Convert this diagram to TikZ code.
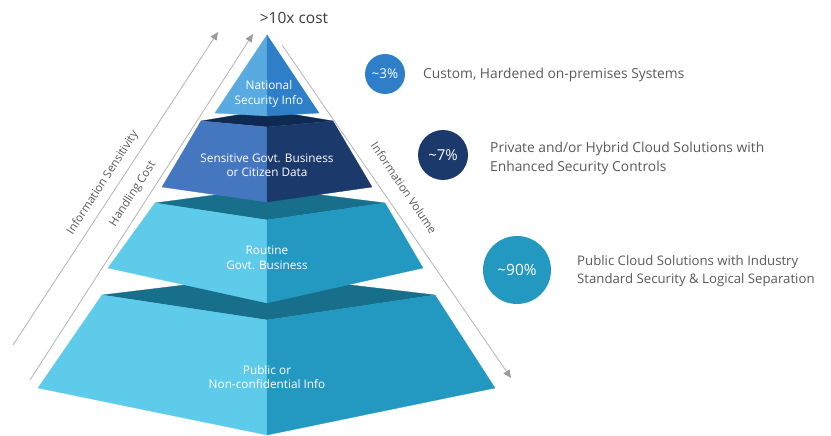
\documentclass[tikz,border=0pt]{standalone}
\usepackage{fontspec}
\setmainfont{Open Sans}
\usetikzlibrary{arrows.meta}

\definecolor{apexL}{HTML}{5AAAE2}
\definecolor{apexR}{HTML}{2E7FC7}
\definecolor{navyL}{HTML}{4577C0}
\definecolor{navyR}{HTML}{1B3A6B}
\definecolor{navyTop}{HTML}{0F2A52}
\definecolor{cyanL}{HTML}{5ECBEB}
\definecolor{cyanR}{HTML}{2398C0}
\definecolor{cyanTop}{HTML}{176F8C}
\definecolor{labelgrey}{HTML}{595959}
\definecolor{titlegrey}{HTML}{3A3A3A}
\definecolor{axisgrey}{HTML}{B4B4B4}
\definecolor{tipgrey}{HTML}{9C9C9C}

\tikzset{
  face/.style={fill=#1, draw=#1, line width=0.3pt, line join=round},
  tiertext/.style={text=white, align=center, font=\fontsize{11.8}{14.5}\selectfont, inner sep=0pt},
  axisline/.style={draw=axisgrey, line width=0.8pt,
    -{Triangle[length=8pt,width=7pt,color=tipgrey]}},
  axistext/.style={text=labelgrey, font=\fontsize{11.5}{13}\selectfont, inner sep=0pt},
  share/.style={circle, fill=#1, text=white, inner sep=0pt},
  desc/.style={text=labelgrey, align=left, anchor=west, inner sep=0pt},
}

\begin{document}
\begin{tikzpicture}[x=1pt, y=-1pt]
\useasboundingbox (0,0) rectangle (831,436);

% bottom tier: public or non-confidential information
\fill[face=cyanTop] (102,295) -- (267,275) -- (435,295) -- (267,320) -- cycle;
\fill[face=cyanL] (102,295) -- (267,320) -- (267,435) -- (38,388) -- cycle;
\fill[face=cyanR] (267,320) -- (435,295) -- (495,388) -- (267,435) -- cycle;

% third tier: routine government business
\fill[face=cyanTop] (155,203) -- (267,188) -- (385,203) -- (267,220) -- cycle;
\fill[face=cyanL] (155,203) -- (267,220) -- (267,303) -- (108,268) -- cycle;
\fill[face=cyanR] (267,220) -- (385,203) -- (423,268) -- (267,303) -- cycle;

% second tier: sensitive business or citizen data
\fill[face=navyTop] (201,121) -- (267,110) -- (333,121) -- (267,127) -- cycle;
\fill[face=navyL] (201,121) -- (267,127) -- (267,202) -- (162,187) -- cycle;
\fill[face=navyR] (267,127) -- (333,121) -- (372,187) -- (267,202) -- cycle;

% apex: national security information
\fill[face=apexL] (267,35) -- (267,116) -- (215,113) -- cycle;
\fill[face=apexR] (267,35) -- (319,113) -- (267,116) -- cycle;

% tier captions
\node[tiertext] (national) at (269,94) {National\\Security Info};
\node[tiertext] (sensitive) at (267,165) {Sensitive Govt. Business\\or Citizen Data};
\node[tiertext] (routine) at (267,258) {Routine\\Govt. Business};
\node[tiertext] (public) at (267,377) {Public or\\Non-confidential Info};

\node[text=titlegrey, font=\fontsize{15.5}{17}\selectfont, inner sep=0pt] (cost) at (294,18) {>10x cost};

% axes along the pyramid flanks
\coordinate (sensA) at (13,345);
\coordinate (sensB) at (218,32);
\coordinate (costA) at (30,380);
\coordinate (costB) at (253,34);
\coordinate (volA) at (282,45);
\coordinate (volB) at (511,378);
\draw[axisline] (sensA) -- (sensB);
\draw[axisline] (costA) -- (costB);
\draw[axisline] (volA) -- (volB);

\node[axistext, rotate=57] (sensitivity) at (103,183) {Information Sensitivity};
\node[axistext, rotate=57] (handling) at (133,194) {Handling Cost};
\node[axistext, rotate=-56] (volume) at (404,188) {Information Volume};

% share of workloads and matching solutions
\node[share=apexR, minimum size=40pt, font=\fontsize{13.5}{15}\selectfont] (p3) at (385,74) {\textasciitilde3\%};
\node[share=navyR, minimum size=50pt, font=\fontsize{15}{17}\selectfont] (p7) at (443,155) {\textasciitilde7\%};
\node[share=cyanR, minimum size=68pt, font=\fontsize{15.5}{17}\selectfont] (p90) at (517,270) {\textasciitilde90\%};

\node[desc, font=\fontsize{13.8}{19}\selectfont] (onprem) at (423,75) {Custom, Hardened on-premises Systems};
\node[desc, font=\fontsize{13.8}{19}\selectfont] (hybrid) at (490,158) {Private and/or Hybrid Cloud Solutions with\\Enhanced Security Controls};
\node[desc, font=\fontsize{13.2}{18.5}\selectfont] (publiccloud) at (577,271) {Public Cloud Solutions with Industry\\Standard Security \& Logical Separation};

\end{tikzpicture}
\end{document}
